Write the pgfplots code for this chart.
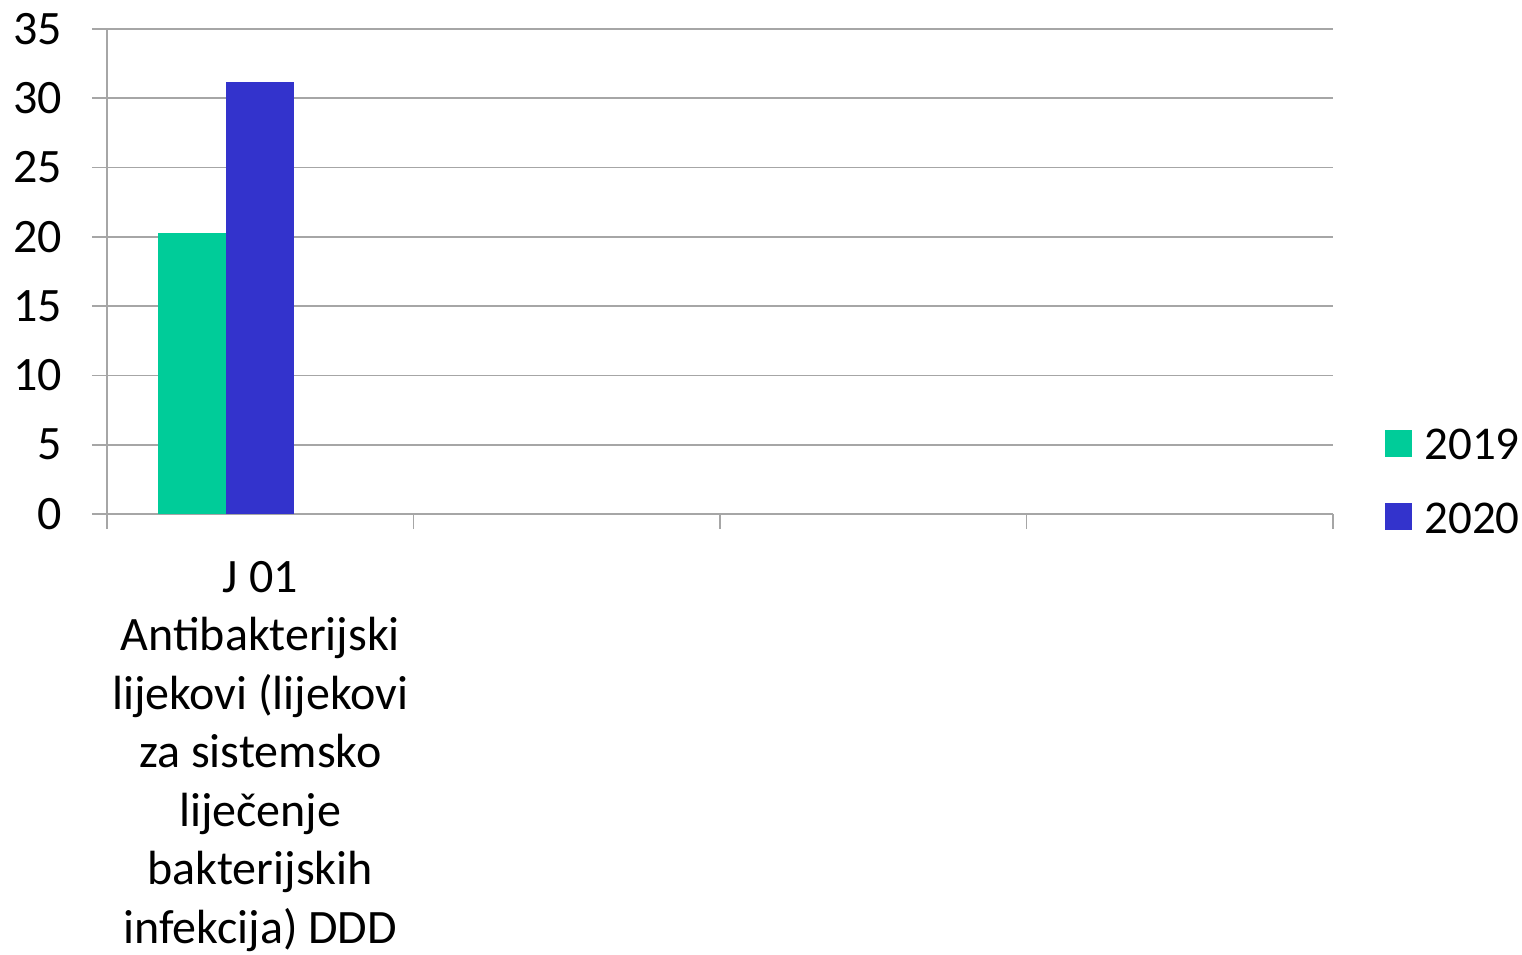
\documentclass[border=0pt]{standalone}
\usepackage{fontspec}
\setmainfont{Carlito}
\usepackage{pgfplots}
\pgfplotsset{compat=1.18}
\definecolor{cgreen}{HTML}{00CC99}
\definecolor{cblue}{HTML}{3333CC}
\definecolor{cgrid}{HTML}{A6A6A6}
\begin{document}
\begin{tikzpicture}
\path[use as bounding box] (-53.5pt,-220pt) rectangle (707.5pt,257pt);
\begin{axis}[
  anchor=south west, at={(0pt,0pt)},
  scale only axis, width=613pt, height=242.5pt,
  xmin=-0.5, xmax=3.5, ymin=0, ymax=35,
  axis x line=bottom, axis y line=left,
  axis line style={cgrid, line width=0.8pt, -},
  xtick={-0.5,0.5,1.5,2.5,3.5}, xticklabels={},
  ytick={0,5,...,35},
  ymajorgrids, grid style={cgrid, line width=0.8pt},
  major tick length=7.5pt, tick align=outside,
  tick style={cgrid, line width=0.8pt},
  /pgf/number format/assume math mode=true,
  yticklabel style={font=\fontsize{24}{29}\selectfont, xshift=-11.5pt},
  extra x ticks={0},
  extra x tick labels={J 01\\Antibakterijski\\lijekovi (lijekovi\\za sistemsko\\liječenje\\bakterijskih\\infekcija) DDD},
  extra x tick style={major tick length=0pt, grid=none,
    tick label style={align=center, yshift=-20pt, font=\fontsize{24}{29.25}\selectfont}},
  ybar, bar width=34pt,
  legend style={draw=none, fill=none, at={(1.0375,0.0649)}, anchor=west,
    font=\fontsize{23.5}{28}\selectfont, row sep=20pt,
    nodes={inner sep=0pt},
    /tikz/every odd column/.append style={column sep=6pt}},
  legend cell align=left,
  legend image code/.code={\fill[#1] (0pt,-5.5pt) rectangle (13.5pt,8pt);},
]
\addplot[fill=cgreen, draw=none, bar shift=-34pt] coordinates {(0,20.26)};
\addplot[fill=cblue, draw=none, bar shift=0pt] coordinates {(0,31.17)};
\legend{2019,2020}
\end{axis}
\end{tikzpicture}
\end{document}
